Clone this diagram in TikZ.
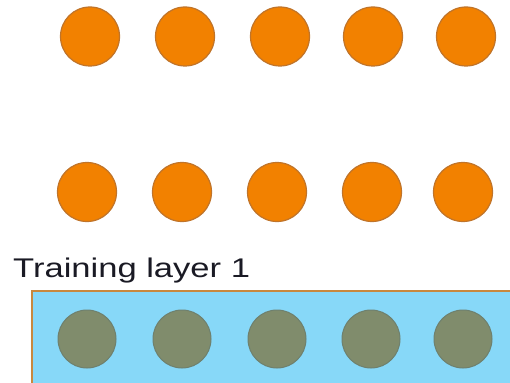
\documentclass[tikz,border=0pt]{standalone}
\usepackage{fontspec}
\usepackage{graphicx}
\newfontfamily\handfont{Liberation Sans}
\definecolor{orfill}{HTML}{F28100}
\definecolor{ordraw}{HTML}{C0742A}
\definecolor{grfill}{HTML}{808C6C}
\definecolor{grdraw}{HTML}{6E806E}
\definecolor{bluefill}{HTML}{87D8F8}
\definecolor{boxdraw}{HTML}{C8883E}
\definecolor{textcol}{HTML}{1A1A24}
\begin{document}
\begin{tikzpicture}[x=1pt,y=-1pt,
  orange unit/.style={circle,minimum size=59pt,inner sep=0pt,fill=orfill,draw=ordraw,line width=1.2pt},
  green unit/.style={circle,minimum size=58pt,inner sep=0pt,fill=grfill,draw=grdraw,line width=1pt},
  layerbox/.style={fill=bluefill,draw=boxdraw,line width=1.5pt},
  lbl/.style={font=\handfont\fontsize{27}{30}\selectfont,text=textcol,anchor=base west,inner sep=0pt}]
\useasboundingbox (0,0) rectangle (510,382);
\begin{scope}
\clip (0,0) rectangle (510,382);
\path[layerbox] (32,291) rectangle (530,400);
\end{scope}
\foreach \x [count=\i] in {90,185,280,373,466} {
  \node[orange unit] (t\i) at (\x,36.5) {};
}
\foreach \x [count=\i] in {87,182,277,372,463} {
  \node[orange unit] (m\i) at (\x,192) {};
}
\foreach \x [count=\i] in {87,182,277,371,463} {
  \node[green unit] (g\i) at (\x,339) {};
}
\node[lbl] (label) at (13,277) {\scalebox{1.28}[1]{Training layer 1}};
\end{tikzpicture}
\end{document}
